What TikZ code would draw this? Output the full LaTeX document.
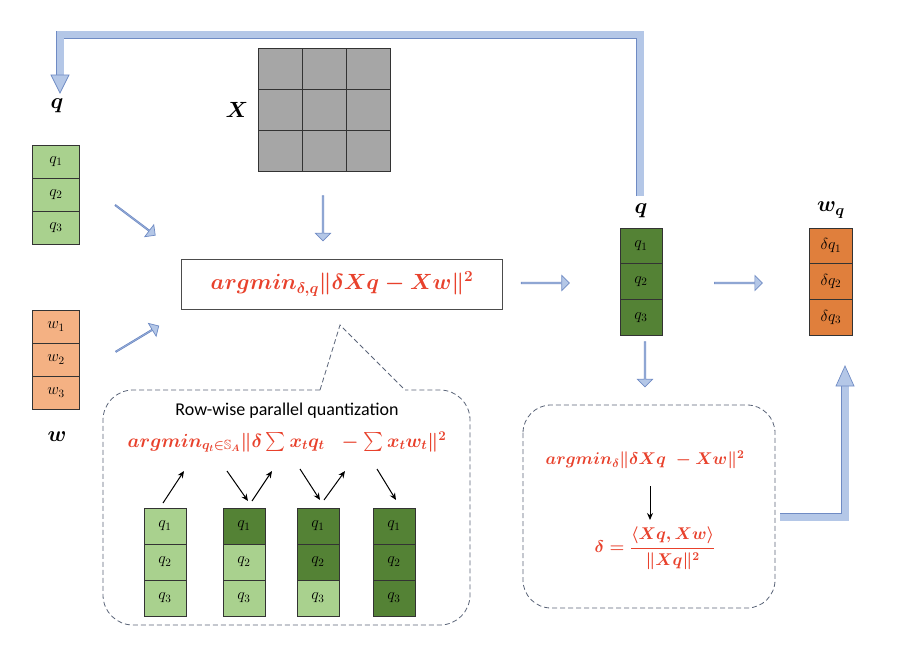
\RequirePackage{fix-cm}
\documentclass[tikz,border=0pt]{standalone}
\usepackage{amsmath}
\usepackage{amssymb}
\usepackage{fontspec}
\newfontfamily\calib{Carlito}
\usetikzlibrary{positioning, arrows.meta, shapes.arrows, calc}

\definecolor{arrowfill}{HTML}{B4C7E7}
\definecolor{arrowline}{HTML}{6F8BC4}
\definecolor{lightgreen}{HTML}{A9D18E}
\definecolor{darkgreen}{HTML}{548235}
\definecolor{lightorange}{HTML}{F4B183}
\definecolor{darkorange}{HTML}{E07F3C}
\definecolor{formulared}{HTML}{E8412C}
\definecolor{calloutgray}{HTML}{5A6478}

\tikzset{
    cell/.style={draw=black!80, line width=0.8pt, minimum width=#1, minimum height=33pt, inner sep=0pt, font=\fontsize{16}{18}\selectfont},
    cell/.default=42pt,
    fat/.style={single arrow, draw=arrowline, fill=arrowfill, line width=0.7pt, inner sep=0pt,
        minimum width=15pt, single arrow head extend=3.5pt, single arrow head indent=0pt, minimum height=#1},
    fatline/.style={draw=arrowline, line width=0.7pt, double=arrowfill, double distance=7pt},
    callout/.style={draw=calloutgray, dash pattern=on 5pt off 3pt, line width=0.8pt},
    redmath/.style={text=formulared, inner sep=1pt},
    thin arrow/.style={-{Stealth[length=7pt,width=6pt]}, line width=1pt}
}

\begin{document}
\begin{tikzpicture}[x=1pt, y=-1pt]
    \useasboundingbox (0,0) rectangle (904,666);

    % feedback arrow on top
    \coordinate (fbstart) at (640,196);
    \coordinate (fbend) at (60,76);
    \draw[fatline] (fbstart) |- (60,35) -- (fbend);
    \filldraw[draw=arrowline, fill=arrowfill, line width=0.7pt] (51,75) -- (69,75) -- (60,93) -- cycle;

    % input q
    \node[font=\fontsize{22}{24}\selectfont] (qlabel) at (57,106) {$\boldsymbol{q}$};
    \foreach \i in {1,2,3}{
        \node[cell=47pt, fill=lightgreen] (qin\i) at (56,{145+33*(\i-0.5)}) {$q_{\i}$};
    }

    % input w
    \foreach \i in {1,2,3}{
        \node[cell=47pt, fill=lightorange] (win\i) at (56,{310+33*(\i-0.5)}) {$w_{\i}$};
    }
    \node[font=\fontsize{22}{24}\selectfont] (wlabel) at (57,437) {$\boldsymbol{w}$};

    % matrix X
    \foreach \r in {1,2,3}{
        \foreach \c in {1,2,3}{
            \node[draw=black!80, line width=0.8pt, fill=black!35, minimum width=44pt, minimum height=41pt, inner sep=0pt]
                (x\r\c) at ({258+44*(\c-0.5)},{48+41*(\r-0.5)}) {};
        }
    }
    \node[font=\fontsize{22}{24}\selectfont, left=6pt of x21] (xlabel) {$\boldsymbol{X}$};

    % objective
    \node[draw=black!70, line width=0.6pt, minimum width=321pt, minimum height=50pt, redmath,
        font=\fontsize{22}{24}\selectfont\boldmath] (obj) at (342,284)
        {$argmin_{\delta,\boldsymbol{q}}\|\delta\boldsymbol{Xq}-\boldsymbol{Xw}\|^2$};

    \node[fat=45pt, rotate=-90] (xarrow) at (323,218) {};
    \node[fat=50pt, rotate=-37] (qarrow) at (135,220) {};
    \node[fat=50pt, rotate=31] (warrow) at (137,339) {};
    \node[fat=48pt] (objarrow) at (545,283) {};

    % quantized q
    \node[font=\fontsize{22}{24}\selectfont] (qmlabel) at (641,211) {$\boldsymbol{q}$};
    \foreach \i in {1,2,3}{
        \node[cell=42pt, fill=darkgreen, minimum height=35.7pt] (qm\i) at (641,{228+35.7*(\i-0.5)}) {$q_{\i}$};
    }
    \node[fat=48pt] (qmarrow) at (738,283) {};

    % w_q
    \node[font=\fontsize{22}{24}\selectfont] (wqlabel) at (831,210) {$\boldsymbol{w_q}$};
    \foreach \i in {1,2,3}{
        \node[cell=43pt, fill=darkorange, minimum height=35.7pt] (wq\i) at (831,{228+35.7*(\i-0.5)}) {$\delta q_{\i}$};
    }

    % delta callout
    \node[fat=45pt, rotate=-90] (downarrow) at (645,364) {};
    \draw[callout, rounded corners=28pt] (523,405) rectangle (775,608);
    \node[redmath, font=\fontsize{17}{19}\selectfont\boldmath] (deltaobj) at (645,460)
        {$argmin_{\delta}\|\delta\boldsymbol{Xq}\;-\boldsymbol{Xw}\|^2$};
    \node[redmath, font=\fontsize{17}{19}\selectfont\boldmath] (deltasol) at (655,548)
        {$\delta=\dfrac{\langle\boldsymbol{Xq},\boldsymbol{Xw}\rangle}{\|\boldsymbol{Xq}\|^2}$};
    \draw[thin arrow] (650,486) -- (650,520);

    \coordinate (backstart) at (780,517);
    \coordinate (backend) at (845,386);
    \draw[fatline] (backstart) -| (backend);
    \filldraw[draw=arrowline, fill=arrowfill, line width=0.7pt] (836,386) -- (854,386) -- (845,366) -- cycle;

    % row-wise callout
    \draw[callout, rounded corners=30pt] (320,390) -- (103,390) -- (103,625) -- (470,625) -- (470,390) -- (405,390);
    \draw[callout] (320,390) -- (340,325) -- (405,390);
    \node[font=\calib\fontsize{18}{20}\selectfont] (rowtitle) at (287,411) {Row-wise parallel quantization};
    \node[redmath, font=\fontsize{19}{21}\selectfont\boldmath] (rowobj) at (287,442)
        {$argmin_{q_t\in\mathbb{S}_A}\|\delta\sum\boldsymbol{x}_tq_t\;\;-\sum\boldsymbol{x}_tw_t\|^2$};

    \foreach \n/\x/\ca/\cb/\cc in {1/165/lightgreen/lightgreen/lightgreen,
                                  2/244/darkgreen/lightgreen/lightgreen,
                                  3/318/darkgreen/darkgreen/lightgreen,
                                  4/394/darkgreen/darkgreen/darkgreen}{
        \node[cell=42pt, fill=\ca, minimum height=36pt] (s\n a) at (\x,526) {$q_1$};
        \node[cell=42pt, fill=\cb, minimum height=36pt] (s\n b) at (\x,562) {$q_2$};
        \node[cell=42pt, fill=\cc, minimum height=36pt] (s\n c) at (\x,598) {$q_3$};
    }

    % update arrows
    \draw[thin arrow] (163,503) -- (184,471);
    \draw[thin arrow] (227,471) -- (248,501);
    \draw[thin arrow] (252,501) -- (272,471);
    \draw[thin arrow] (300,469) -- (320,500);
    \draw[thin arrow] (324,500) -- (345,471);
    \draw[thin arrow] (377,469) -- (396,500);
\end{tikzpicture}
\end{document}
